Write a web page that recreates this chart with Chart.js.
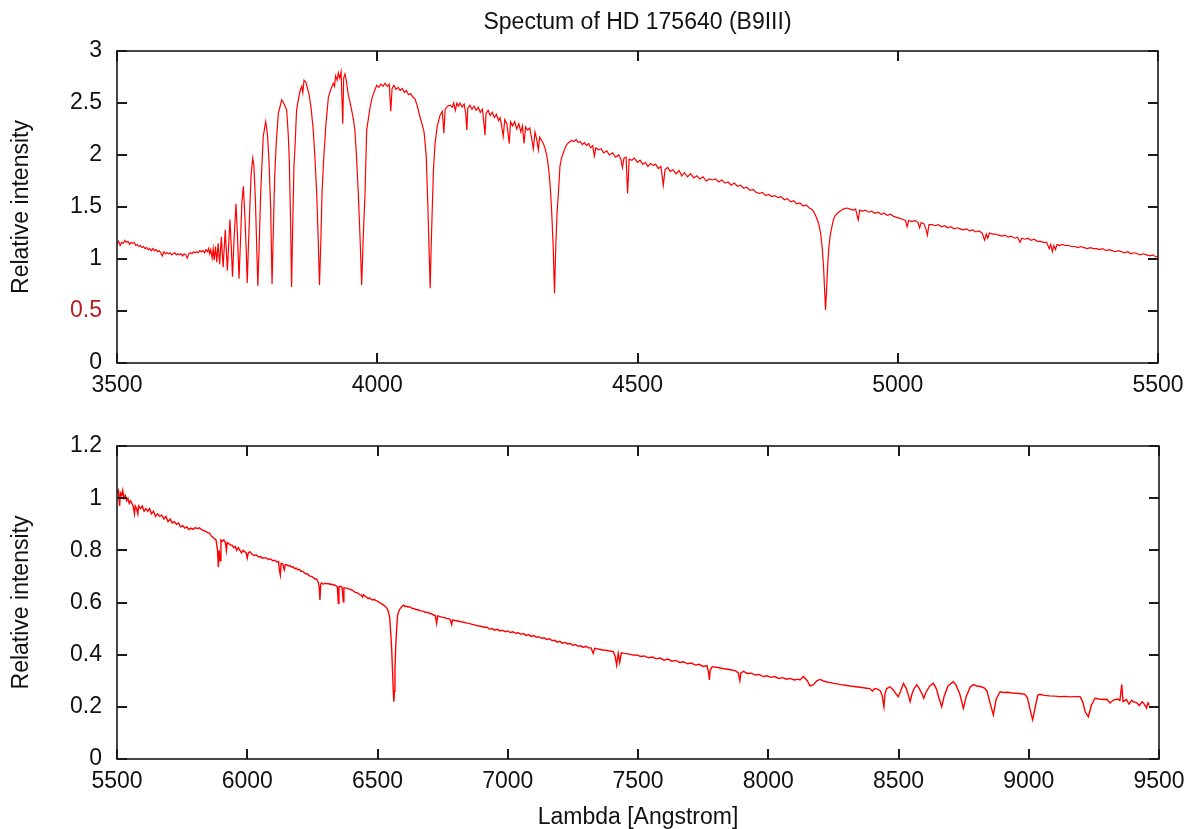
<!DOCTYPE html>
<html><head><meta charset="utf-8">
<script src="https://cdn.jsdelivr.net/npm/chart.js@4.4.1/dist/chart.umd.min.js"></script>
<style>
html,body{margin:0;padding:0;background:#fff;}
#wrap{position:relative;width:1196px;height:829px;overflow:hidden;}
canvas{position:absolute;left:0;}
#c1{top:0;} #c2{top:410px;}
</style></head><body>
<div id="wrap"><canvas id="c1" width="1196" height="410"></canvas><canvas id="c2" width="1196" height="419"></canvas></div>
<script>
const titleText = 'Spectum of HD 175640 (B9III)';
const yAxisLabel = 'Relative intensity';
const xAxisLabel = 'Lambda [Angstrom]';
const topXTicks = [3500, 4000, 4500, 5000, 5500];
const topYTicks = [0, 0.5, 1, 1.5, 2, 2.5, 3];
const bottomXTicks = [5500, 6000, 6500, 7000, 7500, 8000, 8500, 9000, 9500];
const bottomYTicks = [0, 0.2, 0.4, 0.6, 0.8, 1, 1.2];

const topLambda = [
3500,3503,3506,3509,3512,3515,3518,3521,3524,3527,
3530,3533,3536,3539,3542,3545,3548,3551,3554,3557,
3560,3563,3566,3569,3572,3575,3578,3581,3584,3587,
3590,3593,3596,3599,3602,3605,3608,3611,3614,3617,
3620,3623,3626,3629,3632,3635,3638,3641,3644,3647,
3650,3653,3656,3659,3662,3665,3668,3671,3674,3676,
3678,3680,3682.8,3684.8,3686.8,3689.2,3691.6,3694.4,3697.2,3700.5,
3703.9,3708,3712,3717,3719.5,3721.9,3724.5,3728.6,3731.5,3734.4,
3737.5,3740,3742.7,3746,3748.5,3750.2,3752,3754.5,3757.5,3760.7,
3763,3766,3768.5,3770.6,3773,3776,3781,3785.7,3789,3792,
3795.3,3797.9,3800.5,3803,3806,3810,3816.4,3820,3823,3826,
3829,3831,3833.5,3835.4,3837.5,3840,3842,3845,3849,3852,
3855,3857,3859.3,3863,3866,3869,3873,3877,3880,3883.7,
3886.8,3889,3891.5,3894,3897,3901,3906,3910,3915.5,3918,
3920,3923,3925.2,3928,3930.5,3933.7,3935.5,3938,3941,3944,
3947,3950,3954,3957,3960,3963.6,3967,3970.1,3973,3976.5,
3979.7,3983,3986,3990,3995,3999,4003,4007,4011,4015,
4019,4023,4026,4028.5,4032,4036,4040,4044,4048,4052,
4056,4060,4064,4068,4072.5,4077,4082,4086,4090,4094,
4097,4099.5,4101.7,4103.5,4105.5,4108,4111,4115,4120.5,4125,
4128,4130.5,4135,4140,4144,4147,4150,4153,4156,4159,
4163,4167,4170,4172,4174,4178,4182,4186,4190,4194,
4198,4202,4205,4207,4209,4213,4217,4221,4225,4229,
4233,4236,4239,4242,4245,4249,4253.7,4256,4260,4264,
4268,4272,4276,4279,4282,4285,4289,4293,4296,4300,
4303,4306,4309.5,4312,4316,4319,4322,4325.5,4328.7,4332,
4335,4338,4340.5,4343,4345.5,4348,4351,4354,4357.5,4361,
4364,4368,4373.6,4378,4382,4386,4390,4394,4398,4402,
4406,4410,4414,4417,4420,4425,4430,4435,4441,4446,
4452,4458,4464,4468,4471,4474,4478,4481,4484,4489,
4494,4500,4505,4510,4515,4520,4525,4530,4535,4540,
4545,4549.6,4553,4558,4563,4568,4574,4580,4585,4590,
4596,4602,4608,4614,4620,4626,4632,4638,4644,4650,
4656,4662,4668,4674,4680,4686,4692,4698,4704,4710,
4716,4722,4728,4734,4740,4746,4752,4758,4764,4770,
4776,4782,4788,4794,4800,4806,4812,4818,4824,4830,
4834,4838,4842,4846,4849,4852,4855,4857.5,4859.5,4861.3,
4863,4865,4867.5,4870,4873,4876,4879,4884,4889,4895,
4902,4908,4914,4919,4924,4927,4932,4938,4944,4950,
4956,4962,4968,4974,4980,4986,4992,4998,5004,5010,
5015,5018,5021,5027,5033,5039,5042,5045,5050,5054,
5057,5060,5066,5072,5078,5084,5090,5096,5102,5108,
5114,5120,5126,5132,5138,5144,5150,5156,5162,5167,
5170,5173,5176,5182,5188,5194,5200,5206,5212,5218,
5224,5230,5235,5238,5244,5250,5256,5262,5268,5274,
5280,5286,5291,5294,5297,5300,5303,5306,5310,5316,
5322,5328,5334,5340,5346,5352,5358,5364,5370,5376,
5382,5388,5394,5400,5406,5412,5418,5424,5430,5436,
5442,5448,5454,5460,5466,5472,5478,5484,5490,5496,
5500];
const topIntensity = [
1.15,1.17,1.13,1.16,1.15,1.18,1.16,1.17,1.14,1.16,
1.15,1.16,1.13,1.14,1.12,1.13,1.11,1.12,1.10,1.11,
1.09,1.10,1.08,1.10,1.08,1.09,1.07,1.08,1.06,1.03,
1.07,1.05,1.06,1.05,1.06,1.04,1.05,1.06,1.04,1.05,
1.04,1.05,1.03,1.05,1.04,1.01,1.05,1.06,1.05,1.07,
1.06,1.07,1.06,1.08,1.07,1.08,1.06,1.09,1.07,1.10,
1.05,1.09,1.01,1.10,0.99,1.12,0.97,1.15,0.95,1.21,
0.92,1.28,0.89,1.38,1.12,0.83,1.15,1.53,1.22,0.81,
1.20,1.55,1.70,1.38,1.05,0.77,1.05,1.40,1.80,1.97,
1.90,1.55,1.10,0.74,1.10,1.63,2.18,2.32,2.20,1.95,
1.47,0.76,1.30,1.80,2.12,2.40,2.53,2.50,2.47,2.43,
2.20,1.95,1.35,0.73,1.30,1.90,2.08,2.43,2.55,2.62,
2.66,2.60,2.72,2.70,2.64,2.58,2.45,2.24,2.00,1.63,
1.15,0.75,1.15,1.65,1.95,2.27,2.55,2.62,2.69,2.66,
2.76,2.72,2.79,2.74,2.80,2.30,2.74,2.78,2.70,2.59,
2.52,2.45,2.35,2.24,2.00,1.63,1.20,0.75,1.20,1.63,
2.24,2.35,2.45,2.55,2.62,2.67,2.65,2.68,2.66,2.69,
2.66,2.68,2.42,2.64,2.67,2.63,2.65,2.62,2.64,2.60,
2.62,2.58,2.59,2.56,2.54,2.47,2.37,2.30,2.22,2.00,
1.55,1.10,0.72,1.10,1.45,1.86,2.11,2.27,2.38,2.42,
2.21,2.44,2.47,2.48,2.46,2.50,2.43,2.50,2.47,2.50,
2.46,2.49,2.40,2.24,2.45,2.48,2.44,2.47,2.43,2.46,
2.41,2.44,2.30,2.19,2.40,2.43,2.38,2.41,2.36,2.39,
2.33,2.36,2.28,2.18,2.34,2.30,2.11,2.32,2.28,2.32,
2.25,2.30,2.22,2.28,2.11,2.27,2.24,2.26,2.18,2.06,
2.22,2.16,2.05,2.17,2.14,2.11,2.07,2.00,1.89,1.72,
1.47,1.12,0.67,1.12,1.45,1.63,1.89,1.97,2.02,2.07,
2.10,2.12,2.14,2.13,2.15,2.12,2.13,2.10,2.12,2.09,
2.11,2.07,2.09,1.99,2.07,2.05,2.06,2.02,2.04,2.00,
2.02,1.98,2.00,1.96,1.88,1.97,1.98,1.63,1.96,1.95,
1.97,1.93,1.95,1.91,1.93,1.89,1.92,1.90,1.91,1.87,
1.89,1.71,1.86,1.88,1.84,1.86,1.82,1.85,1.80,1.83,
1.79,1.82,1.78,1.80,1.77,1.79,1.75,1.77,1.76,1.77,
1.74,1.76,1.73,1.74,1.71,1.73,1.70,1.71,1.68,1.69,
1.66,1.67,1.64,1.63,1.64,1.61,1.62,1.60,1.61,1.59,
1.60,1.57,1.58,1.55,1.56,1.53,1.54,1.51,1.52,1.49,
1.48,1.46,1.42,1.37,1.32,1.24,1.10,0.92,0.70,0.51,
0.68,0.90,1.10,1.22,1.30,1.37,1.41,1.44,1.46,1.48,
1.49,1.48,1.47,1.48,1.375,1.47,1.46,1.47,1.45,1.46,
1.44,1.45,1.43,1.44,1.42,1.43,1.41,1.40,1.39,1.38,
1.37,1.31,1.37,1.36,1.37,1.35,1.30,1.35,1.34,1.29,
1.23,1.33,1.33,1.32,1.33,1.31,1.32,1.30,1.31,1.29,
1.30,1.29,1.28,1.29,1.27,1.28,1.26,1.27,1.25,1.18,
1.24,1.20,1.25,1.24,1.24,1.23,1.22,1.23,1.21,1.22,
1.20,1.21,1.16,1.20,1.19,1.20,1.18,1.19,1.17,1.17,
1.16,1.16,1.10,1.14,1.07,1.13,1.09,1.14,1.13,1.14,
1.13,1.13,1.12,1.12,1.11,1.12,1.11,1.10,1.11,1.10,
1.10,1.09,1.10,1.08,1.09,1.08,1.07,1.08,1.07,1.06,
1.07,1.05,1.06,1.05,1.04,1.05,1.04,1.03,1.04,1.02,
1.03];

const bottomLambda = [
5500,5505,5510,5513,5518,5522,5527,5532,5537,5542,
5547,5552,5557,5562,5567,5570,5575,5580,5583,5590,
5597,5604,5611,5618,5625,5632,5640,5648,5656,5664,
5672,5680,5688,5696,5704,5712,5720,5728,5736,5744,
5752,5760,5768,5776,5784,5792,5800,5808,5816,5824,
5832,5840,5848,5856,5862,5868,5874,5880,5886,5889,
5892,5896,5899,5904,5910,5916,5920,5923,5930,5936,
5942,5948,5954,5960,5966,5972,5978,5984,5990,5996,
6000,6004,6010,6018,6026,6034,6042,6050,6058,6066,
6074,6082,6090,6098,6106,6114,6120,6124,6127,6130,
6136,6142,6146,6152,6158,6164,6170,6176,6182,6188,
6194,6200,6206,6212,6218,6224,6230,6236,6242,6248,
6254,6260,6266,6272,6276,6279,6282,6286,6292,6298,
6304,6310,6316,6322,6328,6334,6340,6346,6349.6,6352,
6358,6364,6368.7,6371,6377,6383,6389,6395,6401,6407,
6413,6419,6425,6431,6437,6443,6446,6452,6458,6464,
6470,6476,6482,6488,6494,6500,6506,6512,6518,6524,
6530,6536,6542,6547,6551,6554.5,6558,6561,6563,6565,
6567,6570,6573.6,6577,6581,6586,6592,6599,6606,6612,
6618,6624.7,6632,6640,6648,6656,6664,6672,6678,6684,
6692,6700,6708,6715,6722,6727,6731,6738,6746,6754,
6762,6770,6778,6785,6788,6796,6804,6812,6820,6828,
6836,6844,6852,6860,6868,6876,6884,6892,6900,6910,
6920,6930,6940,6950,6960,6970,6980,6990,7000,7010,
7020,7030,7040,7050,7060,7070,7080,7090,7100,7110,
7120,7130,7140,7150,7160,7170,7180,7190,7200,7210,
7220,7230,7240,7250,7260,7270,7280,7290,7300,7310,
7320,7328,7334,7345,7355,7365,7375,7385,7395,7405,
7412,7418,7424,7430,7436,7445,7455,7465,7475,7485,
7495,7510,7525,7540,7555,7570,7585,7600,7615,7630,
7645,7660,7675,7690,7705,7720,7735,7750,7765,7771,
7774,7777,7785,7800,7815,7830,7845,7860,7875,7885,
7891,7895,7905,7920,7935,7950,7965,7980,7995,8010,
8025,8040,8055,8070,8085,8100,8115,8122,8135,8150,
8160,8173,8186,8199,8210,8225,8240,8250,8265,8280,
8295,8314,8330,8345,8360,8378,8390,8400,8408,8420,
8430,8437,8444,8448,8455,8467,8480,8490,8499,8508,
8519,8530,8538,8544.6,8552,8560,8570,8580,8590,8597,
8605,8620,8634,8645,8655,8666,8675,8690,8710,8720,
8735,8749,8760,8775,8787,8800,8815,8830,8840,8850,
8864,8875,8890,8905,8920,8935,8954,8970,8985,8995,
9005,9015,9025,9035,9043,9060,9080,9100,9120,9140,
9160,9180,9197,9207,9217,9229,9240,9254,9270,9285,
9300,9312,9325,9340,9350,9357,9362,9375,9385,9395,
9401,9415,9425,9435,9445,9452,9458,9462];
const bottomIntensity = [
1.02,1.03,0.97,1.02,1.01,1.03,1.00,1.01,0.99,1.00,
0.98,0.99,0.98,0.97,0.94,0.97,0.96,0.94,0.97,0.96,
0.97,0.95,0.96,0.95,0.96,0.94,0.95,0.93,0.94,0.93,
0.935,0.92,0.93,0.91,0.92,0.905,0.91,0.90,0.905,0.89,
0.895,0.885,0.89,0.88,0.885,0.88,0.887,0.883,0.886,0.88,
0.876,0.873,0.868,0.865,0.855,0.85,0.845,0.84,0.80,0.735,
0.80,0.76,0.84,0.835,0.84,0.83,0.80,0.83,0.825,0.82,
0.82,0.81,0.815,0.80,0.81,0.80,0.79,0.80,0.795,0.79,
0.77,0.79,0.795,0.785,0.78,0.783,0.775,0.776,0.77,0.772,
0.77,0.765,0.767,0.76,0.762,0.755,0.757,0.72,0.705,0.75,
0.748,0.725,0.745,0.745,0.74,0.742,0.735,0.737,0.73,0.732,
0.725,0.727,0.72,0.72,0.715,0.71,0.71,0.705,0.70,0.70,
0.695,0.69,0.69,0.68,0.66,0.61,0.67,0.675,0.67,0.674,
0.672,0.673,0.67,0.671,0.668,0.667,0.665,0.66,0.597,0.66,
0.662,0.658,0.603,0.656,0.655,0.655,0.652,0.65,0.648,0.645,
0.64,0.638,0.636,0.63,0.628,0.62,0.63,0.625,0.62,0.615,
0.618,0.612,0.61,0.612,0.607,0.605,0.60,0.598,0.594,0.59,
0.585,0.578,0.565,0.54,0.48,0.42,0.33,0.25,0.22,0.26,
0.34,0.43,0.50,0.55,0.565,0.575,0.583,0.59,0.585,0.586,
0.582,0.584,0.578,0.577,0.573,0.572,0.568,0.567,0.566,0.562,
0.563,0.558,0.557,0.552,0.55,0.52,0.549,0.547,0.544,0.543,
0.54,0.538,0.536,0.515,0.533,0.531,0.53,0.528,0.526,0.525,
0.523,0.521,0.52,0.517,0.515,0.513,0.511,0.51,0.508,0.505,
0.505,0.498,0.500,0.494,0.497,0.491,0.494,0.488,0.491,0.485,
0.488,0.482,0.484,0.478,0.481,0.474,0.477,0.470,0.473,0.467,
0.469,0.463,0.465,0.458,0.461,0.454,0.455,0.448,0.451,0.444,
0.447,0.441,0.443,0.436,0.439,0.432,0.434,0.428,0.432,0.426,
0.426,0.405,0.424,0.422,0.42,0.418,0.417,0.415,0.414,0.412,
0.395,0.36,0.405,0.37,0.408,0.405,0.404,0.402,0.40,0.398,
0.399,0.393,0.395,0.388,0.391,0.384,0.387,0.379,0.383,0.375,
0.378,0.370,0.373,0.365,0.368,0.36,0.363,0.355,0.358,0.33,
0.303,0.34,0.354,0.352,0.349,0.346,0.344,0.341,0.338,0.33,
0.30,0.33,0.336,0.328,0.329,0.322,0.324,0.316,0.319,0.313,
0.316,0.309,0.312,0.306,0.309,0.303,0.306,0.303,0.316,0.30,
0.28,0.284,0.30,0.305,0.30,0.295,0.293,0.29,0.288,0.285,
0.283,0.28,0.278,0.276,0.274,0.271,0.27,0.26,0.27,0.268,
0.262,0.245,0.20,0.25,0.27,0.277,0.265,0.25,0.239,0.26,
0.29,0.27,0.245,0.22,0.25,0.27,0.285,0.27,0.25,0.233,
0.255,0.28,0.29,0.27,0.235,0.20,0.24,0.28,0.296,0.285,
0.25,0.194,0.24,0.275,0.285,0.28,0.278,0.272,0.26,0.22,
0.169,0.23,0.258,0.255,0.256,0.253,0.252,0.25,0.248,0.235,
0.19,0.15,0.20,0.245,0.248,0.244,0.242,0.241,0.239,0.24,
0.238,0.239,0.239,0.22,0.18,0.162,0.205,0.233,0.23,0.228,
0.229,0.215,0.226,0.23,0.225,0.285,0.22,0.228,0.21,0.225,
0.22,0.215,0.205,0.22,0.208,0.195,0.215,0.205];

const FONT_FAMILY = '"Liberation Sans", Arial, Helvetica, sans-serif';
const FONT_SIZE = 23;
const TEXT_COLOR = '#111111';
const LINE_COLOR = '#ff0000';

function pairs(xs, ys) {
  const n = Math.min(xs.length, ys.length);
  const out = [];
  for (let i = 0; i < n; i++) out.push({x: xs[i], y: ys[i]});
  return out;
}

const framePlugin = {
  id: 'gnuFrame',
  afterDraw(chart, args, opts) {
    const {ctx, chartArea: a, scales} = chart;
    const x = scales.x, y = scales.y;
    ctx.save();
    ctx.strokeStyle = '#1a1a1a';
    ctx.lineWidth = 2;
    ctx.beginPath();
    x.ticks.forEach(t => {
      const px = Math.round(x.getPixelForValue(t.value));
      ctx.moveTo(px, a.bottom); ctx.lineTo(px, a.bottom - 10);
      ctx.moveTo(px, a.top); ctx.lineTo(px, a.top + 10);
    });
    y.ticks.forEach(t => {
      const py = Math.round(y.getPixelForValue(t.value));
      ctx.moveTo(a.left, py); ctx.lineTo(a.left + 10, py);
      ctx.moveTo(a.right, py); ctx.lineTo(a.right - 10, py);
    });
    ctx.stroke();
    ctx.lineWidth = 1.6;
    ctx.strokeRect(a.left, a.top, a.right - a.left, a.bottom - a.top);
    if (opts && opts.title) {
      ctx.fillStyle = TEXT_COLOR;
      ctx.font = FONT_SIZE + 'px ' + FONT_FAMILY;
      ctx.textAlign = 'center';
      ctx.textBaseline = 'middle';
      ctx.fillText(opts.title, (a.left + a.right) / 2, opts.titleY);
    }
    ctx.restore();
  }
};

const plainLabel = v => String(v);

function makeChart(canvasId, cfg) {
  const font = {family: FONT_FAMILY, size: FONT_SIZE};
  return new Chart(document.getElementById(canvasId), {
    type: 'line',
    data: {datasets: [{
      data: pairs(cfg.xs, cfg.ys),
      borderColor: LINE_COLOR,
      borderWidth: cfg.lineWidth,
      pointRadius: 0,
      tension: 0,
      fill: false
    }]},
    plugins: [framePlugin],
    options: {
      responsive: false,
      animation: false,
      devicePixelRatio: 1,
      parsing: false,
      normalized: true,
      layout: {padding: {top: cfg.padTop, right: cfg.padRight, bottom: 0, left: 0}},
      plugins: {
        legend: {display: false},
        tooltip: {enabled: false},
        title: {display: false},
        gnuFrame: {title: cfg.title, titleY: cfg.titleY}
      },
      scales: {
        x: {
          type: 'linear', min: cfg.xMin, max: cfg.xMax,
          afterBuildTicks: s => { s.ticks = cfg.xTicks.map(v => ({value: v})); },
          afterFit: s => { s.height = cfg.xAxisHeight; },
          grid: {display: false, drawTicks: false},
          border: {display: false},
          ticks: {font, color: TEXT_COLOR, padding: 9, maxRotation: 0, autoSkip: false, callback: plainLabel},
          title: cfg.xTitle ? {display: true, text: cfg.xTitle, color: TEXT_COLOR,
                  font: {family: FONT_FAMILY, size: FONT_SIZE, lineHeight: 1}, padding: {top: 0, bottom: 0}} : {display: false}
        },
        y: {
          type: 'linear', min: cfg.yMin, max: cfg.yMax,
          afterBuildTicks: s => { s.ticks = cfg.yTicks.map(v => ({value: v})); },
          afterFit: s => { s.width = 117; },
          grid: {display: false, drawTicks: false},
          border: {display: false},
          ticks: {font, padding: 15, autoSkip: false, callback: plainLabel,
                  color: c => (cfg.redTick !== undefined && c.tick && c.tick.value === cfg.redTick) ? '#b41e1e' : TEXT_COLOR},
          title: {display: true, text: yAxisLabel, color: TEXT_COLOR,
                  font: {family: FONT_FAMILY, size: FONT_SIZE, lineHeight: 1.2}, padding: {top: 8, bottom: 0}}
        }
      }
    }
  });
}

makeChart('c1', {
  xs: topLambda, ys: topIntensity, lineWidth: 1.2,
  xMin: 3500, xMax: 5500, yMin: 0, yMax: 3,
  xTicks: topXTicks, yTicks: topYTicks, redTick: 0.5,
  padTop: 51, padRight: 38, xAxisHeight: 47,
  title: titleText, titleY: 23
});
makeChart('c2', {
  xs: bottomLambda, ys: bottomIntensity, lineWidth: 1.4,
  xMin: 5500, xMax: 9500, yMin: 0, yMax: 1.2,
  xTicks: bottomXTicks, yTicks: bottomYTicks,
  padTop: 36, padRight: 37, xAxisHeight: 70,
  xTitle: xAxisLabel
});
</script>
</body></html>
